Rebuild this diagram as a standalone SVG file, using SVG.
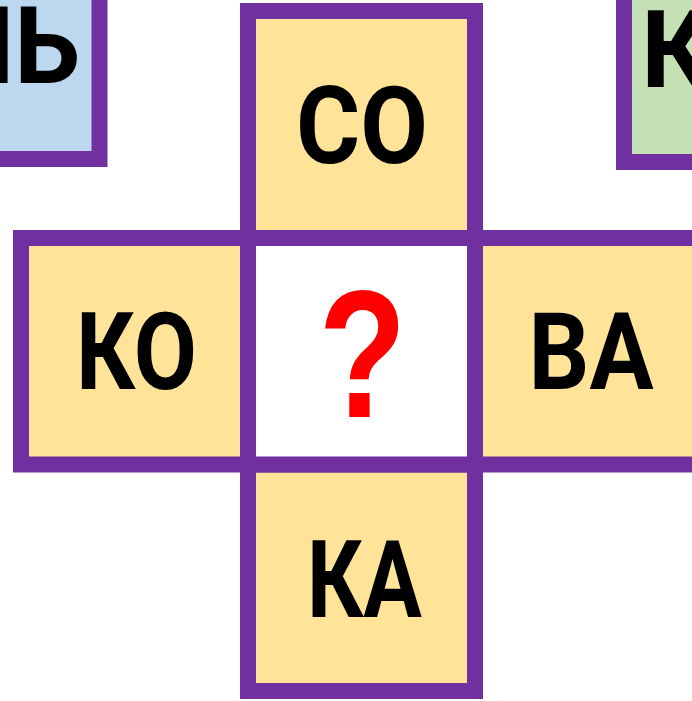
<svg xmlns="http://www.w3.org/2000/svg" width="692" height="701" viewBox="0 0 692 701">
  <style>
    .box { stroke: #7030A0; stroke-width: 16; }
    .yellow { fill: #FFE399; }
    .white { fill: #FFFFFF; }
    .blue { fill: #BDD7EE; }
    .green { fill: #C5E0B4; }
    .lbl { font-family: Roboto, "Liberation Sans", sans-serif; font-weight: bold; font-size: 108px; fill: #000000; }
    .q { font-family: "Liberation Sans", Arial, sans-serif; font-weight: bold; font-size: 182px; fill: #FF0000; }
  </style>
  <rect x="0" y="0" width="692" height="701" fill="#FFFFFF"/>
  <g id="node-blue">
    <rect class="box blue" x="-200" y="-200" width="299.5" height="359"/>
    <text class="lbl" x="80" y="83" text-anchor="end" textLength="140" lengthAdjust="spacingAndGlyphs">НЬ</text>
  </g>
  <g id="node-green">
    <rect class="box green" x="624" y="-200" width="300" height="362"/>
    <text class="lbl" x="641" y="87">К</text>
  </g>
  <g id="node-top">
    <rect class="box yellow" x="248" y="11" width="227" height="227"/>
    <text class="lbl" x="362" y="163" text-anchor="middle" textLength="132" lengthAdjust="spacingAndGlyphs">СО</text>
  </g>
  <g id="node-left">
    <rect class="box yellow" x="21" y="238" width="227" height="226.5"/>
    <text class="lbl" x="136.5" y="389" text-anchor="middle" textLength="121" lengthAdjust="spacingAndGlyphs">КО</text>
  </g>
  <g id="node-right">
    <rect class="box yellow" x="475" y="238" width="260" height="226.5"/>
    <text class="lbl" x="591" y="389" text-anchor="middle" textLength="125" lengthAdjust="spacingAndGlyphs">ВА</text>
  </g>
  <g id="node-bottom">
    <rect class="box yellow" x="248" y="464.5" width="227" height="226.5"/>
    <text class="lbl" x="364.5" y="617" text-anchor="middle" textLength="115" lengthAdjust="spacingAndGlyphs">КА</text>
  </g>
  <g id="node-center">
    <rect class="box white" x="248" y="238" width="227" height="226.5"/>
    <text class="q" x="362.5" y="417" text-anchor="middle" textLength="88" lengthAdjust="spacingAndGlyphs">?</text>
  </g>
</svg>
